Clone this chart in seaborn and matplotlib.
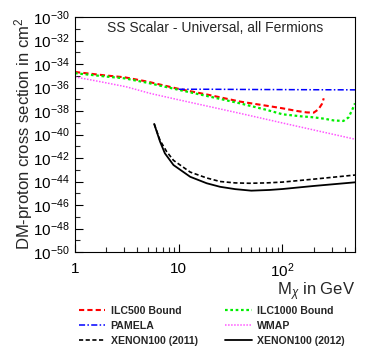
import numpy as np
import pandas as pd
import matplotlib
matplotlib.use("Agg")
import matplotlib.pyplot as plt
import matplotlib.ticker as mticker
import seaborn as sns

# ---- data (masses in GeV, cross sections as log10 of cm^2) ----
ilc500_m = [1, 2, 3, 5, 10, 20, 39, 70, 100, 138, 171, 200, 222, 240, 250]
ilc500_log = [-34.68, -34.98, -35.13, -35.5, -36.12, -36.65, -37.2, -37.55, -37.77, -38.0, -38.12, -38.14, -37.86, -37.4, -36.92]

ilc1000_m = [1, 2, 3, 5, 10, 20, 39, 70, 100, 150, 200, 250, 310, 386, 433, 470, 500]
ilc1000_log = [-34.78, -35.07, -35.22, -35.6, -36.2, -36.78, -37.35, -37.9, -38.28, -38.45, -38.54, -38.65, -38.8, -38.85, -38.55, -37.9, -37.35]

pamela_m = [10, 20, 50, 100, 200, 500]
pamela_log = [-36.15, -36.15, -36.17, -36.18, -36.19, -36.2]

wmap_m = [1, 1.74, 3.15, 5.3, 10, 39, 100, 500]
wmap_log = [-35.1, -35.5, -35.95, -36.5, -37.05, -38.2, -39.02, -40.4]

x2011_m = [5.8, 6.6, 7.64, 8.9, 12.9, 18.6, 25, 35, 48, 70, 100, 200, 500]
x2011_log = [-39.1, -40.5, -41.45, -42.2, -43.2, -43.7, -44.0, -44.12, -44.15, -44.12, -44.05, -43.8, -43.45]

x2012_m = [5.8, 6.6, 7.35, 8.9, 12.9, 18.6, 25, 35, 50, 75, 100, 200, 500]
x2012_log = [-39.1, -40.6, -41.6, -42.6, -43.6, -44.15, -44.45, -44.65, -44.78, -44.72, -44.64, -44.38, -44.07]

labels = ["ILC500 Bound", "ILC1000 Bound", "PAMELA", "WMAP", "XENON100 (2011)", "XENON100 (2012)"]
title_text = "SS Scalar - Universal, all Fermions"
xlabel_text = r"M$_{\chi}$ in GeV"
ylabel_text = r"DM-proton cross section in cm$^{2}$"
ytick_exps = [-30, -32, -34, -36, -38, -40, -42, -44, -46, -48, -50]

sns.set_theme(style="white")
plt.rcParams['font.family'] = ['Liberation Sans', 'DejaVu Sans']
plt.rcParams['mathtext.fontset'] = 'custom'
plt.rcParams['mathtext.rm'] = 'Liberation Sans'
plt.rcParams['mathtext.it'] = 'Liberation Sans:italic'
plt.rcParams['mathtext.sf'] = 'Liberation Sans'

fig = plt.figure(figsize=(3.74, 3.61), dpi=100)
ax = fig.add_axes([75/374, 1-252/361, 280/374, 235/361])

series = [
    (ilc500_m, ilc500_log, "#ff0000", (2.5, 1.5), 1.5),
    (ilc1000_m, ilc1000_log, "#00ee00", (1.2, 1.2), 1.6),
    (pamela_m, pamela_log, "#0000ff", (4, 1.5, 1, 1.5), 1.1),
    (wmap_m, wmap_log, "#ff55ff", (1, 1), 1.1),
    (x2011_m, x2011_log, "#000000", (2.5, 1.5), 1.2),
    (x2012_m, x2012_log, "#000000", None, 1.3),
]

handles = []
for (m, lg, c, d, lw), lab in zip(series, labels):
    df = pd.DataFrame({"m": m, "s": 10.0 ** np.array(lg)})
    sns.lineplot(data=df, x="m", y="s", ax=ax, color=c, linewidth=lw, label=lab, legend=False)
    ln = ax.lines[-1]
    if d is not None:
        ln.set_dashes(d)
    handles.append(ln)

ax.set_xscale("log")
ax.set_yscale("log")
ax.set_xlim(1, 500)
ax.set_ylim(1e-50, 1e-30)

ax.set_yticks([10.0 ** e for e in ytick_exps])
ax.set_yticklabels([r"$\mathregular{10^{%d}}$" % e for e in ytick_exps])
ax.yaxis.set_minor_locator(mticker.FixedLocator([10.0 ** e for e in range(-49, -30, 2)]))
ax.yaxis.set_minor_formatter(mticker.NullFormatter())

ax.set_xticks([1, 10, 100])
ax.set_xticklabels(["1", "10", r"$\mathregular{10^{2}}$"])
ax.xaxis.set_minor_locator(mticker.LogLocator(base=10, subs=np.arange(2, 10), numticks=20))
ax.xaxis.set_minor_formatter(mticker.NullFormatter())

ax.tick_params(axis="both", which="major", direction="in", length=6, width=0.8,
               labelsize=11, colors="black", bottom=True, left=True, top=False, right=False)
ax.tick_params(axis="both", which="minor", direction="in", length=3.5, width=0.8,
               bottom=True, left=True, top=False, right=False)
ax.tick_params(axis="x", which="major", pad=7)
ax.tick_params(axis="y", which="major", pad=4)

for sp in ax.spines.values():
    sp.set_color("black")
    sp.set_linewidth(0.8)

ax.set_xlabel(xlabel_text, fontsize=12, loc="right", labelpad=0)
ax.set_ylabel(ylabel_text, fontsize=12, loc="top", labelpad=-2)

ax.text(0.5, 0.953, title_text, transform=ax.transAxes, ha="center", va="center", fontsize=10)

order = [0, 2, 4, 1, 3, 5]
leg = fig.legend(handles=[handles[i] for i in order], labels=[labels[i] for i in order],
                 ncol=2, frameon=False,
                 loc="upper left", bbox_to_anchor=(79/374, 1-306/361),
                 prop={"weight": "bold", "size": 7.6}, handlelength=2.5,
                 handletextpad=0.5, columnspacing=2.6, labelspacing=0.45, borderpad=0,
                 borderaxespad=0)

fig.savefig("out.png", dpi=100)
